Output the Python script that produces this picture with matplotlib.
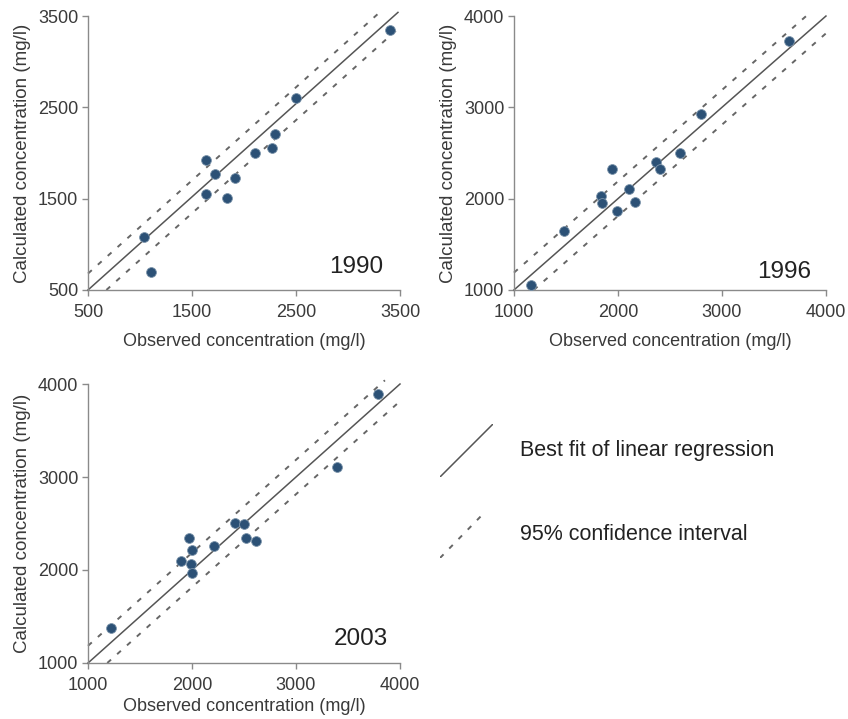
import matplotlib
matplotlib.use("Agg")
import matplotlib.pyplot as plt
import numpy as np

plt.rcParams["font.family"] = ["Liberation Sans", "DejaVu Sans"]

# observed / calculated concentrations (mg/l) per survey year
obs_1990 = [1040, 1105, 1630, 1630, 1720, 1840, 1910, 2110, 2270, 2300, 2500, 3400]
calc_1990 = [1080, 695, 1920, 1550, 1770, 1505, 1730, 2000, 2060, 2210, 2600, 3350]

obs_1996 = [1165, 1480, 1840, 1845, 1940, 1990, 2105, 2160, 2370, 2405, 2600, 2800, 3645]
calc_1996 = [1055, 1645, 2030, 1950, 2330, 1870, 2110, 1965, 2400, 2330, 2495, 2925, 3730]

obs_2003 = [1225, 1895, 1975, 2000, 1990, 2000, 2215, 2410, 2500, 2520, 2615, 3390, 3790]
calc_2003 = [1375, 2100, 2340, 2220, 2060, 1970, 2255, 2510, 2490, 2345, 2315, 3105, 3895]

# regression line (slope, intercept) and half-width of the 95% band
fit_1990 = (1.02, -10, 180)
fit_1996 = (1.0, 0, 190)
fit_2003 = (1.0, 0, 185)

ticks_1990 = [500, 1500, 2500, 3500]
ticks_other = [1000, 2000, 3000, 4000]

years = ["1990", "1996", "2003"]
# where each year tag sits (axes fraction, right/bottom corner)
year_pos = [(0.946, 0.045), (0.952, 0.025), (0.96, 0.047)]

point_color = "#2c5176"
axis_color = "#8a8a8a"
text_color = "#3a3a3a"
dash = (2.6, 4.2)


def draw_line(ax, a, b, lo, hi, **kw):
    # keep the line inside the square plotting range (allow a small overshoot at the top)
    x0 = max(lo, (lo - b) / a)
    x1 = min(hi, (hi + 40 - b) / a)
    xs = np.array([x0, x1])
    ax.plot(xs, a * xs + b, clip_on=False, **kw)


def panel(ax, obs, calc, fit, ticks, year, pos, xpad=9):
    lo, hi = ticks[0], ticks[-1]
    a, b, ci = fit
    draw_line(ax, a, b, lo, hi, color="#555555", lw=1.1)
    draw_line(ax, a, b + ci, lo, hi, color="#666666", lw=1.4, dashes=dash)
    draw_line(ax, a, b - ci, lo, hi, color="#666666", lw=1.4, dashes=dash)
    ax.scatter(obs, calc, s=50, color=point_color, edgecolor="#7d95ab",
               linewidth=0.6, zorder=3, clip_on=False)

    ax.set_xlim(lo, hi)
    ax.set_ylim(lo, hi)
    ax.set_xticks(ticks)
    ax.set_yticks(ticks)
    for side in ["top", "right"]:
        ax.spines[side].set_visible(False)
    for side in ["left", "bottom"]:
        ax.spines[side].set_color(axis_color)
        ax.spines[side].set_linewidth(1.0)
    ax.tick_params(direction="out", length=4, width=1.0, color=axis_color,
                   labelsize=13, labelcolor=text_color)
    ax.tick_params(axis="x", pad=6)
    ax.tick_params(axis="y", pad=3)
    ax.set_xlabel("Observed concentration (mg/l)", fontsize=13,
                  color=text_color, labelpad=xpad)
    ax.set_ylabel("Calculated concentration (mg/l)", fontsize=13.5,
                  color=text_color, labelpad=5)
    ax.text(pos[0], pos[1], year, transform=ax.transAxes, ha="right",
            va="bottom", fontsize=17.5, color="#222222")


fig = plt.figure(figsize=(8.48, 7.19), dpi=100)

ax1 = fig.add_axes([0.1038, 0.5967, 0.3679, 0.381])
ax2 = fig.add_axes([0.6061, 0.5967, 0.3679, 0.381])
ax3 = fig.add_axes([0.1038, 0.0779, 0.3679, 0.388])

panel(ax1, obs_1990, calc_1990, fit_1990, ticks_1990, years[0], year_pos[0])
panel(ax2, obs_1996, calc_1996, fit_1996, ticks_other, years[1], year_pos[1])
panel(ax3, obs_2003, calc_2003, fit_2003, ticks_other, years[2], year_pos[2],
      xpad=3)

# hand-made key in the empty lower-right corner
key_solid = fig.add_axes([440 / 848, 1 - 477 / 719, 53 / 848, 53 / 719])
key_solid.plot([0, 1], [0, 1], color="#555555", lw=1.1)
key_solid.set_xlim(0, 1)
key_solid.set_ylim(0, 1)
key_solid.axis("off")

key_dash = fig.add_axes([440 / 848, 1 - 558 / 719, 45 / 848, 46 / 719])
key_dash.plot([0, 1], [0, 1], color="#666666", lw=1.4, dashes=dash)
key_dash.set_xlim(0, 1)
key_dash.set_ylim(0, 1)
key_dash.axis("off")

fig.text(520 / 848, 1 - 451 / 719, "Best fit of linear regression", fontsize=15.5,
         color="#222222", va="center", ha="left")
fig.text(520 / 848, 1 - 535 / 719, "95% confidence interval", fontsize=15.5,
         color="#222222", va="center", ha="left")

fig.savefig("out.png", dpi=100)
